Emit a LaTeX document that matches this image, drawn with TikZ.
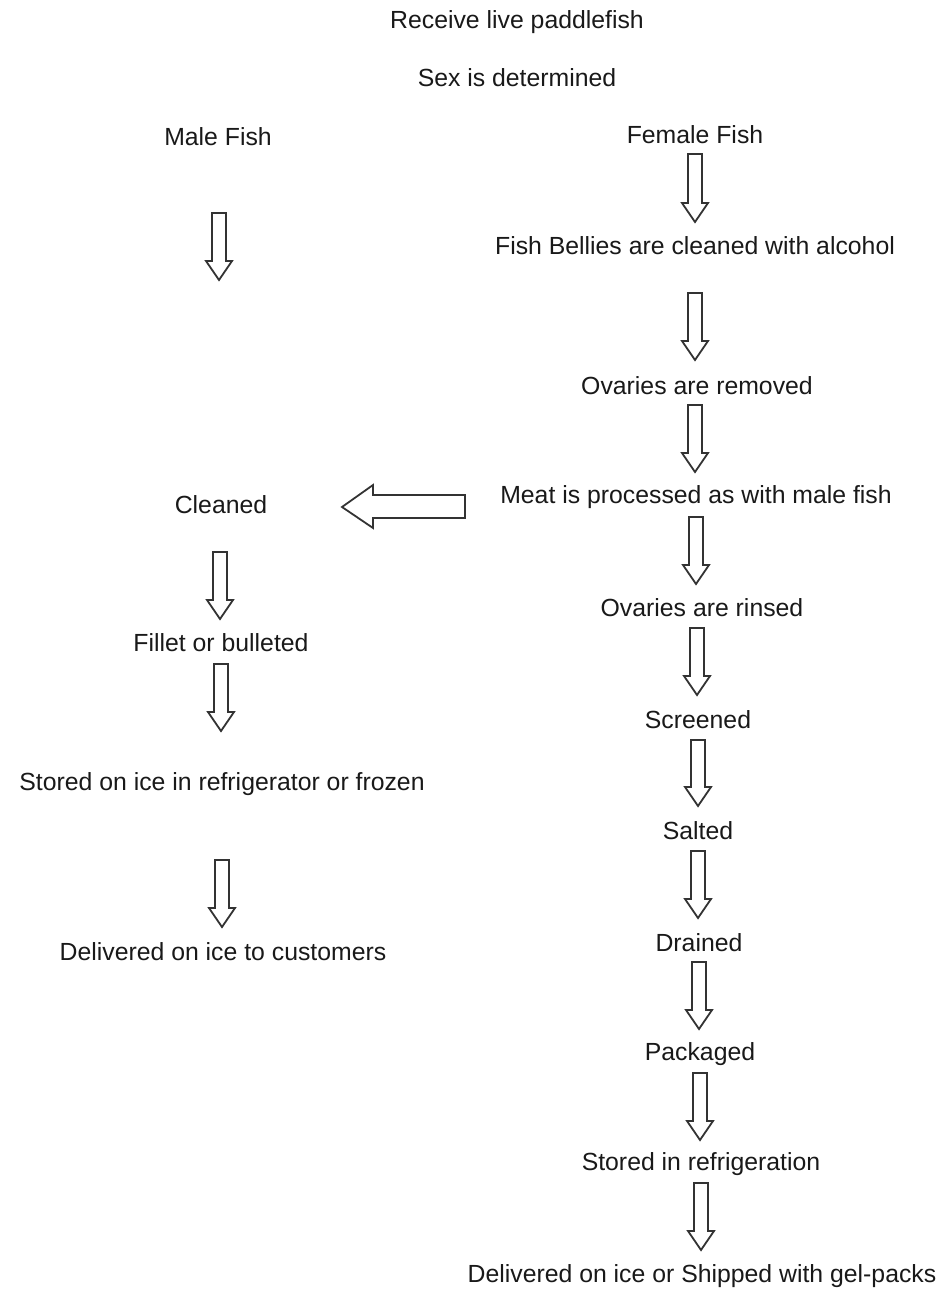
\documentclass[tikz,border=0pt]{standalone}
\usepackage{fontspec}
\setmainfont{Liberation Sans}
\begin{document}
\begin{tikzpicture}[x=1pt,y=-1pt,
  lbl/.style={font=\fontsize{24.8}{27}\selectfont, text=black!90, inner sep=0pt},
  blk/.style={draw=black!80, line width=1.8pt, fill=white, line join=miter}]
\useasboundingbox (0,0) rectangle (941,1292);
\newcommand{\blockdown}[3]{%
  \draw[blk] (#1-7,#2) -- (#1+7,#2) -- (#1+7,#3-19) -- (#1+13,#3-19) -- (#1,#3) -- (#1-13,#3-19) -- (#1-7,#3-19) -- cycle;}
\node[lbl] (recv) at (517,22) {Receive live paddlefish};
\node[lbl] (sex) at (517,78) {Sex is determined};
\node[lbl] (male) at (218,137) {Male Fish};
\node[lbl] (female) at (695,135) {Female Fish};
\node[lbl] (bell) at (695,246) {Fish Bellies are cleaned with alcohol};
\node[lbl] (ovrem) at (697,386) {Ovaries are removed};
\node[lbl] (meat) at (696,497) {Meat is processed as with male fish};
\node[lbl] (clean) at (221,505) {Cleaned};
\node[lbl] (fillet) at (221,643) {Fillet or bulleted};
\node[lbl] (stored) at (222,784) {Stored on ice in refrigerator or frozen};
\node[lbl] (delm) at (223,952) {Delivered on ice to customers};
\node[lbl] (rinse) at (702,608) {Ovaries are rinsed};
\node[lbl] (screen) at (698,720) {Screened};
\node[lbl] (salt) at (698,831) {Salted};
\node[lbl] (drain) at (699,943) {Drained};
\node[lbl] (pack) at (700,1054) {Packaged};
\node[lbl] (storef) at (701,1164) {Stored in refrigeration};
\node[lbl] (delf) at (702,1276) {Delivered on ice or Shipped with gel-packs};
% male column arrows
\blockdown{219}{213}{280}
\blockdown{220}{552}{619}
\blockdown{221}{664}{731}
\blockdown{222}{860}{927}
% female column arrows
\blockdown{695}{154}{222}
\blockdown{695}{293}{360}
\blockdown{695}{405}{472}
\blockdown{696}{517}{584}
\blockdown{697}{628}{695}
\blockdown{698}{740}{806}
\blockdown{698}{851}{918}
\blockdown{699}{962}{1029}
\blockdown{700}{1073}{1140}
\blockdown{701}{1183}{1250}
% left arrow
\draw[blk] (465,495) -- (465,518) -- (373,518) -- (373,528) -- (342,507) -- (373,485) -- (373,495) -- cycle;
\end{tikzpicture}
\end{document}
